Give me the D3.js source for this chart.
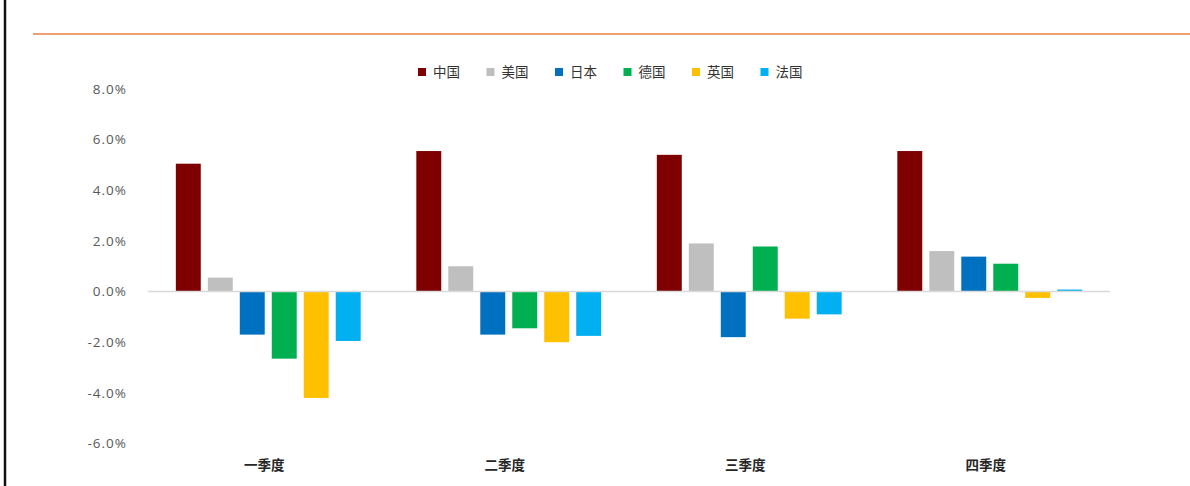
<!DOCTYPE html>
<html><head><meta charset="utf-8">
<script src="https://cdn.jsdelivr.net/npm/d3@7"></script>
<style>
html,body{margin:0;padding:0;background:#fff;}
svg{display:block;}
</style></head>
<body>
<svg id="chart" width="1190" height="486"></svg>
<script>
const quarters = ["一季度", "二季度", "三季度", "四季度"];
const seriesNames = ["中国", "美国", "日本", "德国", "英国", "法国"];
const seriesColors = ["#7f0000", "#bfbfbf", "#0070c0", "#00b050", "#ffc000", "#00b0f0"];
const china   = [5.05, 5.55, 5.40, 5.55];
const usa     = [0.55, 1.00, 1.90, 1.60];
const japan   = [-1.70, -1.70, -1.80, 1.38];
const germany = [-2.65, -1.45, 1.78, 1.10];
const uk      = [-4.20, -2.00, -1.07, -0.25];
const france  = [-1.95, -1.75, -0.90, 0.08];
const yTicks  = [-6, -4, -2, 0, 2, 4, 6, 8];

const values = [china, usa, japan, germany, uk, france];
const svg = d3.select("#chart");

// frame decorations
svg.append("line").attr("x1", 5).attr("x2", 5).attr("y1", 0).attr("y2", 486)
  .attr("stroke", "#111").attr("stroke-width", 2.5);
svg.append("line").attr("x1", 33).attr("x2", 1190).attr("y1", 34).attr("y2", 34)
  .attr("stroke", "#ee9f74").attr("stroke-width", 2);

const x0 = d3.scaleBand().domain(quarters).range([148, 1110]).padding(0);
const x1 = d3.scaleBand().domain(seriesNames).range([0, x0.bandwidth()])
  .paddingInner(0.22).paddingOuter(0.87);
const y = d3.scaleLinear().domain([-6, 8]).range([443.5, 89]);

// y axis labels
const yAxis = d3.axisLeft(y).tickValues(yTicks).tickSize(0).tickPadding(0)
  .tickFormat(d => d3.format(".1f")(d).replace("\u2212", "-") + "%");
const gy = svg.append("g").attr("transform", "translate(127,0)").call(yAxis);
gy.select(".domain").remove();
gy.selectAll("text").attr("fill", "#595959").attr("font-size", 13.5)
  .attr("font-family", "'Open Sans', 'DejaVu Sans', sans-serif")
  .style("letter-spacing", "1px");

// bars
const groups = svg.append("g").selectAll("g").data(quarters).join("g")
  .attr("transform", q => `translate(${x0(q)},0)`);
groups.selectAll("rect")
  .data((q, qi) => seriesNames.map((s, si) => ({ s, si, v: values[si][qi] })))
  .join("rect")
  .attr("x", d => x1(d.s))
  .attr("width", x1.bandwidth())
  .attr("y", d => y(Math.max(0, d.v)))
  .attr("height", d => Math.abs(y(d.v) - y(0)))
  .attr("fill", d => seriesColors[d.si]);

// zero line
svg.append("line").attr("x1", 148).attr("x2", 1110).attr("y1", y(0)).attr("y2", y(0))
  .attr("stroke", "#d9d9d9").attr("stroke-width", 1.5);

// x category labels
const xAxis = d3.axisBottom(x0).tickSize(0).tickPadding(0);
const gx = svg.append("g").attr("transform", "translate(-4,460)").call(xAxis);
gx.select(".domain").remove();
gx.selectAll("text").attr("fill", "#262626").attr("font-size", 13.5)
  .attr("font-weight", "bold")
  .attr("font-family", "'Noto Sans CJK SC', sans-serif");

// legend
const legendX = d3.scaleBand().domain(seriesNames).range([418, 829]);
const lg = svg.append("g").selectAll("g").data(seriesNames).join("g")
  .attr("transform", s => `translate(${legendX(s)},72)`);
lg.append("rect").attr("x", 0).attr("y", -4).attr("width", 8).attr("height", 8)
  .attr("fill", (s, i) => seriesColors[i]);
lg.append("text").attr("x", 15).attr("y", 0).attr("dy", "0.35em")
  .attr("font-size", 13.5).attr("fill", "#333")
  .attr("font-family", "'Noto Sans CJK SC', sans-serif")
  .text(s => s);
</script>
</body></html>
